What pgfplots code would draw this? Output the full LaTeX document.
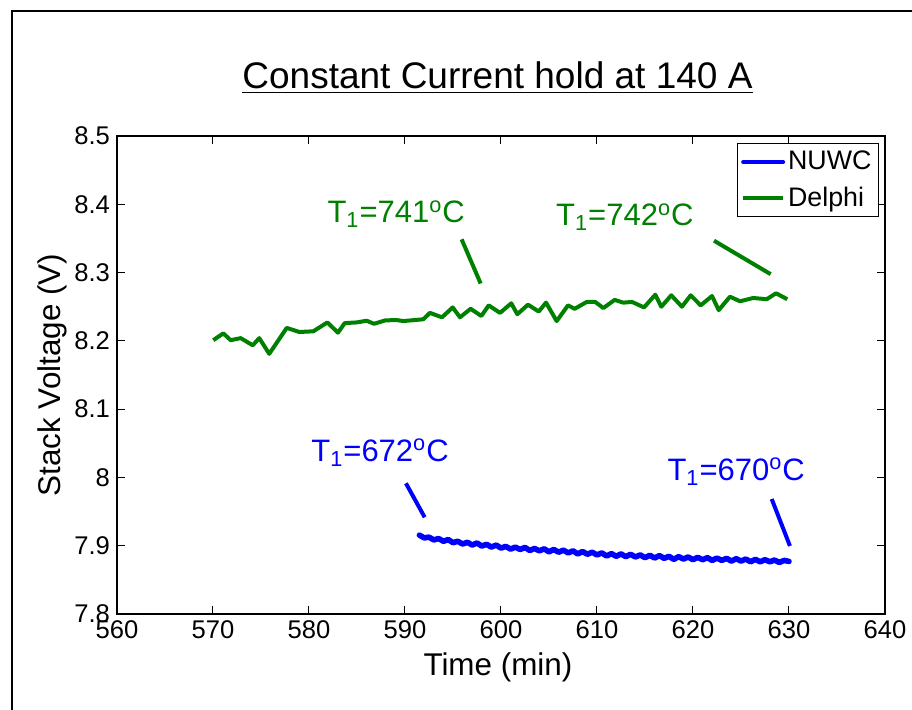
\documentclass[border=0pt]{standalone}
\usepackage{fontspec}
\setmainfont{Liberation Sans}
\usepackage{pgfplots}
\pgfplotsset{compat=1.18}
\definecolor{mblue}{RGB}{0,0,255}
\definecolor{mgreen}{RGB}{0,128,0}

\begin{document}
\begin{tikzpicture}
\begin{axis}[
  at={(0pt,0pt)}, anchor=south west,
  scale only axis, width=384pt, height=239pt,
  xmin=560, xmax=640, ymin=7.8, ymax=8.5,
  xtick={560,570,...,640},
  ytick={7.8,7.9,8,8.1,8.2,8.3,8.4,8.5},
  yticklabels={7.8,7.9,8,8.1,8.2,8.3,8.4,8.5},
  tick align=inside, major tick length=4pt,
  every tick/.style={black, line width=0.5pt},
  axis line style={line width=0.9pt},
  tick label style={font=\fontsize{12.8}{15}\selectfont},
  /pgf/number format/assume math mode=true,
  xlabel={Time (min)}, ylabel={Stack Voltage (V)},
  label style={font=\fontsize{15.7}{18}\selectfont},
  x label style={at={(axis description cs:0.496,-0.1297)}, anchor=base},
  y label style={at={(axis description cs:-0.0742,0.5)}, anchor=base},
  clip=false,
  legend style={at={(axis description cs:0.9922,0.9854)}, anchor=north east,
    draw=black, line width=0.5pt, fill=white,
    font=\fontsize{13.4}{16}\selectfont,
    inner xsep=2pt, inner ysep=2.3pt,
    nodes={inner sep=1.5pt}, row sep=4pt},
  legend cell align=left,
  legend image code/.code={\draw[#1, line width=2pt] (0pt,0pt) -- (20pt,0pt);},
]
% NUWC stack, constant current hold
\addplot[mblue, line width=2.8pt, line join=round, line cap=round] coordinates {
(591.5,7.9155) (592.0,7.9115) (592.5,7.9125) (593.0,7.9085) (593.5,7.9105)
(594.0,7.9065) (594.5,7.9090) (595.0,7.9045) (595.5,7.9065) (596.0,7.9025)
(596.5,7.9050) (597.0,7.9010) (597.5,7.9040) (598.0,7.8995) (598.5,7.9020)
(599.0,7.8980) (599.5,7.9010) (600.0,7.8965) (600.5,7.8990) (601.0,7.8950)
(601.5,7.8980) (602.0,7.8945) (602.5,7.8975) (603.0,7.8930) (603.5,7.8960)
(604.0,7.8925) (604.5,7.8955) (605.0,7.8910) (605.5,7.8945) (606.0,7.8905)
(606.5,7.8935) (607.0,7.8895) (607.5,7.8925) (608.0,7.8880) (608.5,7.8915)
(609.0,7.8875) (609.5,7.8905) (610.0,7.8865) (610.5,7.8895) (611.0,7.8850)
(611.5,7.8885) (612.0,7.8845) (612.5,7.8880) (613.0,7.8840) (613.5,7.8875)
(614.0,7.8835) (614.5,7.8865) (615.0,7.8825) (615.5,7.8860) (616.0,7.8820)
(616.5,7.8855) (617.0,7.8815) (617.5,7.8845) (618.0,7.8800) (618.5,7.8840)
(619.0,7.8805) (619.5,7.8835) (620.0,7.8795) (620.5,7.8830) (621.0,7.8795)
(621.5,7.8825) (622.0,7.8785) (622.5,7.8820) (623.0,7.8785) (623.5,7.8815)
(624.0,7.8775) (624.5,7.8810) (625.0,7.8775) (625.5,7.8805) (626.0,7.8765)
(626.5,7.8800) (627.0,7.8765) (627.5,7.8795) (628.0,7.8765) (628.5,7.8790)
(629.0,7.8755) (629.5,7.8785) (630.0,7.8770)
};
\addlegendentry{NUWC}
% Delphi stack
\addplot[mgreen, line width=2pt, line join=round] coordinates {
(570.03,8.201) (571.07,8.211) (571.84,8.201) (572.89,8.204) (574.14,8.1935)
(574.82,8.204) (575.86,8.181) (577.68,8.219) (578.99,8.213) (580.45,8.214)
(581.91,8.227) (583.02,8.212) (583.72,8.226) (584.97,8.227) (586.01,8.2295)
(586.77,8.225) (587.95,8.230) (589.14,8.2305) (589.82,8.229) (591.90,8.2316)
(592.60,8.241) (593.85,8.2345) (594.97,8.249) (595.73,8.2345) (596.84,8.247)
(597.95,8.2364) (598.72,8.252) (599.90,8.241) (601.07,8.255) (601.70,8.239)
(602.81,8.253) (603.93,8.243) (604.69,8.256) (605.80,8.229) (606.98,8.252)
(607.68,8.247) (608.93,8.257) (609.82,8.257) (610.66,8.248) (611.84,8.260)
(612.74,8.256) (613.65,8.257) (614.90,8.249) (616.07,8.2676) (616.70,8.250)
(617.74,8.2667) (618.85,8.250) (619.76,8.2667) (620.80,8.252) (621.98,8.2657)
(622.68,8.245) (623.85,8.2647) (624.90,8.258) (626.28,8.2628) (627.68,8.261)
(628.65,8.2697) (629.82,8.261)
};
\addlegendentry{Delphi}

% temperature annotations
\node[mgreen, anchor=base, font=\fontsize{15.5}{18}\selectfont]
  at (axis cs:589.08,8.373) {T\textsubscript{1}=741\textsuperscript{o}C};
\node[mgreen, anchor=base, font=\fontsize{15.5}{18}\selectfont]
  at (axis cs:612.9,8.3687) {T\textsubscript{1}=742\textsuperscript{o}C};
\node[mblue, anchor=base, font=\fontsize{15.5}{18}\selectfont]
  at (axis cs:587.4,8.024) {T\textsubscript{1}=672\textsuperscript{o}C};
\node[mblue, anchor=base, font=\fontsize{15.5}{18}\selectfont]
  at (axis cs:624.5,7.9962) {T\textsubscript{1}=670\textsuperscript{o}C};
\draw[mgreen, line width=2pt] (axis cs:595.9,8.3487) -- (axis cs:597.88,8.284);
\draw[mgreen, line width=2pt] (axis cs:622.19,8.3467) -- (axis cs:628.09,8.2977);
\draw[mblue, line width=2pt] (axis cs:590.1,7.9914) -- (axis cs:592.05,7.9416);
\draw[mblue, line width=2pt] (axis cs:628.2,7.9684) -- (axis cs:630.1,7.8996);
\end{axis}

% title
\node[anchor=base, font=\fontsize{18.5}{22}\selectfont] at (190.25pt,262.5pt)
  {\underline{Constant Current hold at 140 A}};

% figure frame
\draw[line width=1pt] (-52.65pt,-60pt) -- (-52.65pt,301.5pt) -- (420pt,301.5pt);
\pgfresetboundingbox
\useasboundingbox (-58.5pt,-47.5pt) rectangle (397.5pt,307pt);
\end{tikzpicture}
\end{document}
